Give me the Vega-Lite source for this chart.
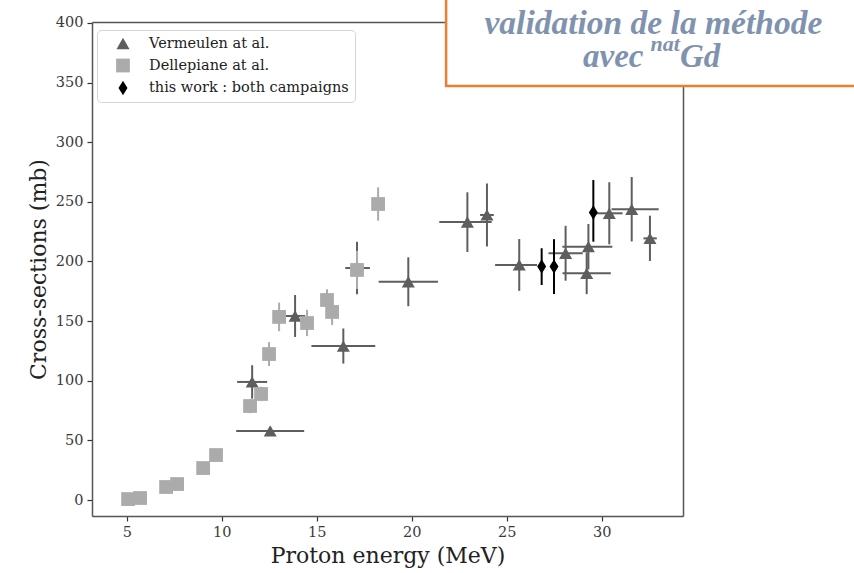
{
  "$schema": "https://vega.github.io/schema/vega-lite/v6.json",
  "width": 591,
  "height": 494,
  "autosize": {"type": "none"},
  "padding": {"left": 92, "top": 22, "right": 171, "bottom": 57},
  "background": "white",
  "config": {
    "view": {"stroke": null},
    "font": "DejaVu Serif",
    "axis": {
      "grid": false,
      "domainColor": "#555555",
      "domainWidth": 1.5,
      "labelFont": "DejaVu Serif",
      "labelFontSize": 14.5
    },
    "legend": {
      "labelFont": "DejaVu Serif",
      "labelFontSize": 14.5,
      "labelLimit": 500,
      "labelColor": "#222222"
    }
  },
  "datasets": {
    "xs": [
      {"series": "Vermeulen at al.", "E": 12.55, "cs": 57.9, "Elo": 10.76, "Ehi": 14.34, "lo": 55.0, "hi": 61.0},
      {"series": "Vermeulen at al.", "E": 11.60, "cs": 99.0, "Elo": 10.81, "Ehi": 12.39, "lo": 85.0, "hi": 113.0},
      {"series": "Vermeulen at al.", "E": 13.86, "cs": 154.3, "Elo": 13.33, "Ehi": 14.39, "lo": 136.7, "hi": 171.9},
      {"series": "Vermeulen at al.", "E": 16.40, "cs": 129.1, "Elo": 14.72, "Ehi": 18.08, "lo": 114.4, "hi": 143.8},
      {"series": "Vermeulen at al.", "E": 17.12, "cs": 194.5, "Elo": 16.50, "Ehi": 17.80, "lo": 172.5, "hi": 216.5},
      {"series": "Vermeulen at al.", "E": 19.82, "cs": 183.0, "Elo": 18.26, "Ehi": 21.38, "lo": 162.5, "hi": 203.5},
      {"series": "Vermeulen at al.", "E": 22.93, "cs": 233.1, "Elo": 21.45, "Ehi": 24.21, "lo": 208.0, "hi": 258.0},
      {"series": "Vermeulen at al.", "E": 23.96, "cs": 239.0, "Elo": 23.60, "Ehi": 24.32, "lo": 212.6, "hi": 265.4},
      {"series": "Vermeulen at al.", "E": 25.66, "cs": 197.1, "Elo": 24.39, "Ehi": 26.60, "lo": 175.4, "hi": 218.8},
      {"series": "Vermeulen at al.", "E": 28.10, "cs": 206.9, "Elo": 27.20, "Ehi": 29.00, "lo": 183.9, "hi": 229.9},
      {"series": "Vermeulen at al.", "E": 29.30, "cs": 212.4, "Elo": 27.93, "Ehi": 30.56, "lo": 193.4, "hi": 231.4},
      {"series": "Vermeulen at al.", "E": 29.21, "cs": 190.1, "Elo": 27.94, "Ehi": 30.48, "lo": 172.6, "hi": 207.6},
      {"series": "Vermeulen at al.", "E": 30.40, "cs": 240.4, "Elo": 29.70, "Ehi": 31.10, "lo": 214.4, "hi": 266.4},
      {"series": "Vermeulen at al.", "E": 31.58, "cs": 243.8, "Elo": 30.52, "Ehi": 33.00, "lo": 216.8, "hi": 270.8},
      {"series": "Vermeulen at al.", "E": 32.54, "cs": 219.4, "Elo": 32.20, "Ehi": 32.90, "lo": 200.4, "hi": 238.4},
      {"series": "Dellepiane at al.", "E": 5.07, "cs": 0.8, "Elo": 4.77, "Ehi": 5.37, "lo": -0.7, "hi": 2.3},
      {"series": "Dellepiane at al.", "E": 5.70, "cs": 1.7, "Elo": 5.40, "Ehi": 6.00, "lo": 0.2, "hi": 3.2},
      {"series": "Dellepiane at al.", "E": 7.07, "cs": 10.9, "Elo": 6.82, "Ehi": 7.32, "lo": 8.9, "hi": 12.9},
      {"series": "Dellepiane at al.", "E": 7.65, "cs": 13.4, "Elo": 7.40, "Ehi": 7.90, "lo": 11.4, "hi": 15.4},
      {"series": "Dellepiane at al.", "E": 9.02, "cs": 26.8, "Elo": 8.82, "Ehi": 9.22, "lo": 23.8, "hi": 29.8},
      {"series": "Dellepiane at al.", "E": 9.70, "cs": 37.7, "Elo": 9.50, "Ehi": 9.90, "lo": 34.7, "hi": 40.7},
      {"series": "Dellepiane at al.", "E": 11.49, "cs": 78.8, "Elo": 11.29, "Ehi": 11.69, "lo": 72.8, "hi": 84.8},
      {"series": "Dellepiane at al.", "E": 12.07, "cs": 88.9, "Elo": 11.87, "Ehi": 12.27, "lo": 82.9, "hi": 94.9},
      {"series": "Dellepiane at al.", "E": 12.49, "cs": 122.4, "Elo": 12.29, "Ehi": 12.69, "lo": 112.4, "hi": 132.4},
      {"series": "Dellepiane at al.", "E": 13.02, "cs": 153.5, "Elo": 12.82, "Ehi": 13.22, "lo": 141.5, "hi": 165.5},
      {"series": "Dellepiane at al.", "E": 14.49, "cs": 148.4, "Elo": 14.29, "Ehi": 14.69, "lo": 137.4, "hi": 159.4},
      {"series": "Dellepiane at al.", "E": 15.54, "cs": 167.7, "Elo": 15.34, "Ehi": 15.74, "lo": 158.7, "hi": 176.7},
      {"series": "Dellepiane at al.", "E": 15.81, "cs": 157.7, "Elo": 15.61, "Ehi": 16.01, "lo": 146.7, "hi": 168.7},
      {"series": "Dellepiane at al.", "E": 17.12, "cs": 192.9, "Elo": 16.92, "Ehi": 17.32, "lo": 176.9, "hi": 208.9},
      {"series": "Dellepiane at al.", "E": 18.23, "cs": 248.2, "Elo": 18.03, "Ehi": 18.43, "lo": 234.2, "hi": 262.2},
      {"series": "this work : both campaigns", "E": 26.84, "cs": 195.7, "Elo": 26.69, "Ehi": 26.99, "lo": 180.3, "hi": 211.1},
      {"series": "this work : both campaigns", "E": 27.49, "cs": 195.7, "Elo": 27.34, "Ehi": 27.64, "lo": 172.7, "hi": 218.7},
      {"series": "this work : both campaigns", "E": 29.56, "cs": 241.0, "Elo": 29.41, "Ehi": 29.71, "lo": 216.6, "hi": 268.3}
    ]
  },
  "resolve": {"axis": {"x": "independent", "y": "independent"}},
  "layer": [
    {
      "data": {"name": "xs"},
      "mark": {"type": "rule", "strokeWidth": 2},
      "encoding": {
        "x": {"field": "Elo", "type": "quantitative", "scale": {"domain": [3.17, 34.28], "nice": false, "zero": false},
              "axis": {"orient": "bottom", "values": [5, 10, 15, 20, 25, 30], "title": "Proton energy (MeV)", "titlePadding": 7,
                       "labelFont": "DejaVu Serif", "labelFontSize": 14.5, "labelColor": "#3a3a3a", "tickColor": "#333333", "tickSize": 5, "tickWidth": 1.2, "labelPadding": 4,
                       "titleFont": "DejaVu Serif", "titleFontSize": 22, "titleFontWeight": "normal", "titleColor": "#222222"}},
        "x2": {"field": "Ehi"},
        "y": {"field": "cs", "type": "quantitative", "scale": {"domain": [-13.4, 400.8], "nice": false, "zero": false},
              "axis": {"orient": "left", "values": [0, 50, 100, 150, 200, 250, 300, 350, 400], "title": "Cross-sections (mb)", "titlePadding": 5,
                       "labelFont": "DejaVu Serif", "labelFontSize": 14.5, "labelColor": "#3a3a3a", "tickColor": "#333333", "tickSize": 5, "tickWidth": 1.2, "labelPadding": 4,
                       "titleFont": "DejaVu Serif", "titleFontSize": 22, "titleFontWeight": "normal", "titleColor": "#222222"}},
        "stroke": {"field": "series", "type": "nominal",
                   "scale": {"domain": ["this work : both campaigns", "Vermeulen at al.", "Dellepiane at al."], "range": ["#000000", "#5e5e5e", "#ababab"]},
                   "legend": null}
      }
    },
    {
      "data": {"name": "xs"},
      "mark": {"type": "rule", "strokeWidth": 2},
      "encoding": {
        "x": {"field": "E", "type": "quantitative", "scale": {"domain": [3.17, 34.28], "nice": false, "zero": false},
              "axis": {"orient": "top", "labels": false, "ticks": false, "title": null, "domain": true}},
        "y": {"field": "lo", "type": "quantitative", "scale": {"domain": [-13.4, 400.8], "nice": false, "zero": false},
              "axis": {"orient": "right", "labels": false, "ticks": false, "title": null, "domain": true}},
        "y2": {"field": "hi"},
        "stroke": {"field": "series", "type": "nominal",
                   "scale": {"domain": ["this work : both campaigns", "Vermeulen at al.", "Dellepiane at al."], "range": ["#000000", "#5e5e5e", "#ababab"]},
                   "legend": null}
      }
    },
    {
      "data": {"name": "xs"},
      "mark": {"type": "point", "filled": true, "opacity": 1},
      "encoding": {
        "x": {"field": "E", "type": "quantitative", "scale": {"domain": [3.17, 34.28], "nice": false, "zero": false}, "axis": null},
        "y": {"field": "cs", "type": "quantitative", "scale": {"domain": [-13.4, 400.8], "nice": false, "zero": false}, "axis": null},
        "shape": {"field": "series", "type": "nominal",
                  "scale": {"domain": ["Vermeulen at al.", "Dellepiane at al.", "this work : both campaigns"], "range": ["triangle-up", "square", "M0,-1L0.62,0L0,1L-0.62,0Z"]},
                  "legend": {"title": null, "orient": "none", "legendX": 5, "legendY": 8, "fillColor": "white", "strokeColor": "#d5d5d5", "cornerRadius": 4, "padding": 6, "rowPadding": 7.5, "symbolOffset": 12, "labelOffset": 18, "labelFont": "DejaVu Serif", "labelFontSize": 14.5, "labelLimit": 500, "labelColor": "#222222"}},
        "color": {"field": "series", "type": "nominal",
                  "scale": {"domain": ["Vermeulen at al.", "Dellepiane at al.", "this work : both campaigns"], "range": ["#5e5e5e", "#ababab", "#000000"]},
                  "legend": {"title": null, "orient": "none", "legendX": 5, "legendY": 8, "fillColor": "white", "strokeColor": "#d5d5d5", "cornerRadius": 4, "padding": 6, "rowPadding": 7.5, "symbolOffset": 12, "labelOffset": 18, "labelFont": "DejaVu Serif", "labelFontSize": 14.5, "labelLimit": 500, "labelColor": "#222222"}},
        "size": {"field": "series", "type": "nominal",
                 "scale": {"domain": ["Vermeulen at al.", "Dellepiane at al.", "this work : both campaigns"], "range": [170, 210, 361]},
                 "legend": {"title": null, "orient": "none", "legendX": 5, "legendY": 8, "fillColor": "white", "strokeColor": "#d5d5d5", "cornerRadius": 4, "padding": 6, "rowPadding": 7.5, "symbolOffset": 12, "labelOffset": 18, "labelFont": "DejaVu Serif", "labelFontSize": 14.5, "labelLimit": 500, "labelColor": "#222222"}}
      }
    },
    {
      "data": {"values": [{"bx1": 21.81, "bx2": 46.0, "by1": 347.2, "by2": 432.0}]},
      "mark": {"type": "rect", "fill": "white", "stroke": "#ee7d31", "strokeWidth": 2.5},
      "encoding": {
        "x": {"field": "bx1", "type": "quantitative", "scale": {"domain": [3.17, 34.28], "nice": false, "zero": false}, "axis": null},
        "x2": {"field": "bx2"},
        "y": {"field": "by1", "type": "quantitative", "scale": {"domain": [-13.4, 400.8], "nice": false, "zero": false}, "axis": null},
        "y2": {"field": "by2"}
      }
    },
    {
      "data": {"values": [{"tx": 32.72, "ty": 391.0, "label": "validation de la méthode"}]},
      "mark": {"type": "text", "font": "Liberation Serif", "fontStyle": "italic", "fontWeight": "bold", "fontSize": 33.5, "color": "#7f93ae", "align": "center", "baseline": "alphabetic"},
      "encoding": {
        "x": {"field": "tx", "type": "quantitative", "scale": {"domain": [3.17, 34.28], "nice": false, "zero": false}, "axis": null},
        "y": {"field": "ty", "type": "quantitative", "scale": {"domain": [-13.4, 400.8], "nice": false, "zero": false}, "axis": null},
        "text": {"field": "label"}
      }
    },
    {
      "data": {"values": [{"tx": 32.2, "ty": 363.0, "label": "avec"}]},
      "mark": {"type": "text", "font": "Liberation Serif", "fontStyle": "italic", "fontWeight": "bold", "fontSize": 33, "color": "#7f93ae", "align": "right", "baseline": "alphabetic"},
      "encoding": {
        "x": {"field": "tx", "type": "quantitative", "scale": {"domain": [3.17, 34.28], "nice": false, "zero": false}, "axis": null},
        "y": {"field": "ty", "type": "quantitative", "scale": {"domain": [-13.4, 400.8], "nice": false, "zero": false}, "axis": null},
        "text": {"field": "label"}
      }
    },
    {
      "data": {"values": [{"tx": 32.57, "ty": 376.5, "label": "nat"}]},
      "mark": {"type": "text", "font": "Liberation Serif", "fontStyle": "italic", "fontWeight": "bold", "fontSize": 22, "color": "#7f93ae", "align": "left", "baseline": "alphabetic"},
      "encoding": {
        "x": {"field": "tx", "type": "quantitative", "scale": {"domain": [3.17, 34.28], "nice": false, "zero": false}, "axis": null},
        "y": {"field": "ty", "type": "quantitative", "scale": {"domain": [-13.4, 400.8], "nice": false, "zero": false}, "axis": null},
        "text": {"field": "label"}
      }
    },
    {
      "data": {"values": [{"tx": 34.12, "ty": 363.0, "label": "Gd"}]},
      "mark": {"type": "text", "font": "Liberation Serif", "fontStyle": "italic", "fontWeight": "bold", "fontSize": 33, "color": "#7f93ae", "align": "left", "baseline": "alphabetic"},
      "encoding": {
        "x": {"field": "tx", "type": "quantitative", "scale": {"domain": [3.17, 34.28], "nice": false, "zero": false}, "axis": null},
        "y": {"field": "ty", "type": "quantitative", "scale": {"domain": [-13.4, 400.8], "nice": false, "zero": false}, "axis": null},
        "text": {"field": "label"}
      }
    }
  ]
}
